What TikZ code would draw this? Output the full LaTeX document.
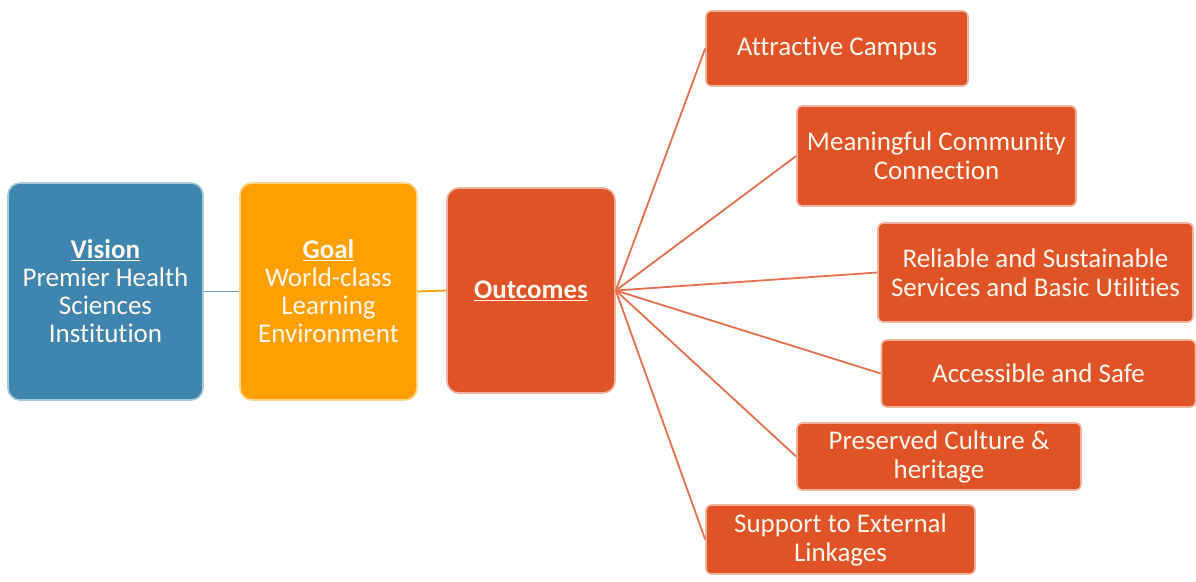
\documentclass[tikz,border=0pt]{standalone}
\usepackage{fontspec}
\setmainfont{Carlito}[Ligatures=NoCommon]
\definecolor{vblue}{RGB}{62,134,176}
\definecolor{gorange}{RGB}{255,160,0}
\definecolor{ored}{RGB}{224,83,38}
\definecolor{oline}{RGB}{232,112,76}
\definecolor{vline}{RGB}{100,160,200}
\definecolor{txt}{RGB}{255,246,236}
\tikzset{
  bigbox/.style={draw=#1!45!white, line width=1.6pt, fill=#1, rounded corners=12pt,
    text=txt, align=center, inner sep=0pt, font=\fontsize{27}{28}\selectfont},
  smallbox/.style={draw=ored!45!white, line width=1.6pt, fill=ored, rounded corners=5pt,
    text=txt, align=center, inner sep=0pt, font=\fontsize{27}{29}\selectfont},
  link/.style={line width=1.8pt}
}
\begin{document}
\begin{tikzpicture}[x=1pt,y=-1pt]
\useasboundingbox (0,0) rectangle (1196,581);
\node[bigbox=vblue, minimum width=195pt, minimum height=217pt] (vision) at (105.5,291.5)
  {\underline{\textbf{Vision}}\\Premier Health\\Sciences\\Institution};
\node[bigbox=gorange, minimum width=177pt, minimum height=217pt] (goal) at (328.5,291.5)
  {\underline{\textbf{Goal}}\\World-class\\Learning\\Environment};
\node[bigbox=ored, minimum width=168pt, minimum height=205pt] (out) at (531,290.5)
  {\underline{\textbf{Outcomes}}};
\node[smallbox, minimum width=262pt, minimum height=75pt] (o1) at (837,48.5) {Attractive Campus};
\node[smallbox, minimum width=279pt, minimum height=100pt] (o2) at (936.5,156) {Meaningful Community\\Connection};
\node[smallbox, minimum width=315pt, minimum height=99pt] (o3) at (1035.5,272.5) {Reliable and Sustainable\\Services and Basic Utilities};
\node[smallbox, minimum width=314pt, minimum height=67pt] (o4) at (1038.5,373.5) {Accessible and Safe};
\node[smallbox, minimum width=284pt, minimum height=67pt] (o5) at (939,456.5) {Preserved Culture \&\\heritage};
\node[smallbox, minimum width=269pt, minimum height=69pt] (o6) at (840.5,539.5) {Support to External\\Linkages};
\draw[link, draw=vline] (vision.east) -- (goal.west);
\draw[link, draw=gorange] (goal.east) -- (out.west);
\foreach \n in {o1,o2,o3,o4,o5,o6}
  \draw[link, draw=oline] (out.east) -- (\n.west);
\end{tikzpicture}
\end{document}
